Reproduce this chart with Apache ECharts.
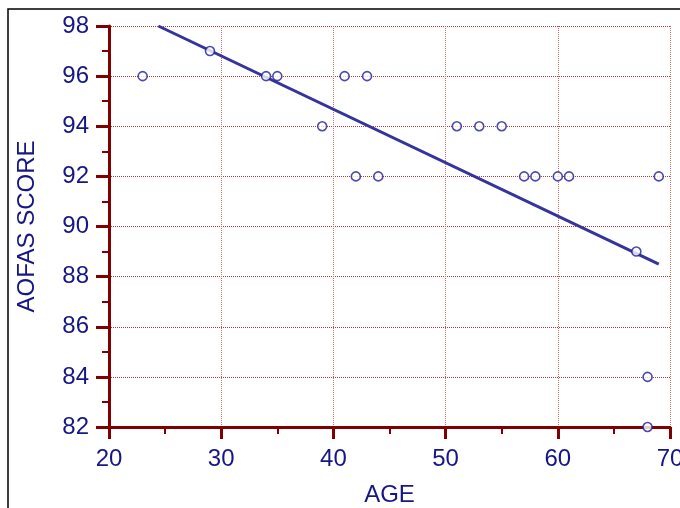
<!DOCTYPE html>
<html><head><meta charset="utf-8">
<script src="https://cdn.jsdelivr.net/npm/echarts@6/dist/echarts.min.js"></script>
<style>html,body{margin:0;padding:0;background:#fff}#c{width:680px;height:508px}</style>
</head><body><div id="c"></div>
<script>
var ages   = [23, 29, 34, 35, 39, 41, 43, 42, 44, 51, 53, 55, 57, 58, 60, 61, 69, 67, 68, 68];
var scores = [96, 97, 96, 96, 94, 96, 96, 92, 92, 94, 94, 94, 92, 92, 92, 92, 92, 89, 84, 82];
var fitX = [24.4, 69];
var fitY = [98, 88.5];
var xTicks = [20, 30, 40, 50, 60, 70];
var yTicks = [82, 84, 86, 88, 90, 92, 94, 96, 98];

var axisRed = '#800000';
var textBlue = '#161685';
var pts = ages.map(function(a, i){ return [a, scores[i]]; });
var fit = fitX.map(function(a, i){ return [a, fitY[i]]; });

var chart = echarts.init(document.getElementById('c'), null, {renderer:'canvas'});
chart.setOption({
  animation:false,
  backgroundColor:'#fff',
  grid:{left:109, top:26, right:10, bottom:81, containLabel:false, outerBoundsMode:'none'},
  graphic:[{type:'rect', shape:{x:8, y:9, width:700, height:600}, style:{fill:null, stroke:'#000', lineWidth:1.5}, z:-10}],
  xAxis:{
    type:'value', min:xTicks[0], max:xTicks[xTicks.length-1], interval:10,
    name:'AGE', nameLocation:'middle', nameGap:56,
    nameTextStyle:{color:textBlue, fontSize:24, fontFamily:'Liberation Sans'},
    axisLine:{show:true, onZero:false, lineStyle:{color:axisRed, width:3}},
    axisTick:{show:true, length:12, lineStyle:{color:axisRed, width:3}},
    minorTick:{show:true, splitNumber:2, length:7, lineStyle:{color:axisRed, width:2}},
    axisLabel:{color:textBlue, fontSize:24, fontFamily:'Liberation Sans', margin:20},
    splitLine:{show:true, lineStyle:{color:'#c87070', type:[1,1], width:1}}
  },
  yAxis:{
    type:'value', min:yTicks[0], max:yTicks[yTicks.length-1], interval:2,
    name:'AOFAS SCORE', nameLocation:'middle', nameGap:70,
    nameTextStyle:{color:textBlue, fontSize:24, fontFamily:'Liberation Sans'},
    axisLine:{show:true, onZero:false, lineStyle:{color:axisRed, width:3}},
    axisTick:{show:true, length:13, lineStyle:{color:axisRed, width:3}},
    minorTick:{show:true, splitNumber:2, length:7, lineStyle:{color:axisRed, width:2}},
    axisLabel:{color:textBlue, fontSize:24, fontFamily:'Liberation Sans', margin:20},
    splitLine:{show:true, lineStyle:{color:'#b83a3a', type:[1,1], width:1}}
  },
  series:[
    {type:'line', data:fit, showSymbol:false, symbol:'none', lineStyle:{color:'#34349c', width:3}, z:3},
    {type:'scatter', data:pts, symbol:'circle', symbolSize:9,
     itemStyle:{color:'#fff', borderColor:'#1e1e98', borderWidth:1.6}, z:4}
  ]
});
</script></body></html>
